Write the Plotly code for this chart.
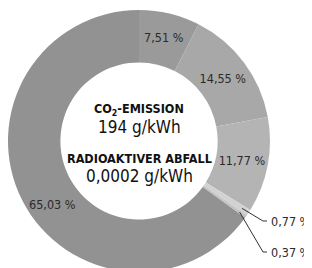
import math
import plotly.graph_objects as go

# Data
shares = [7.51, 14.55, 11.77, 0.77, 0.37, 65.03]
share_labels = ["7,51 %", "14,55 %", "11,77 %", "0,77 %", "0,37 %", "65,03 %"]
slice_colors = ["#9a9a9a", "#a8a8a8", "#b4b4b4", "#d2d2d2", "#c4c4c4", "#929292"]
center_lines = ["CO<sub>2</sub>-EMISSION", "194 g/kWh", "RADIOAKTIVER ABFALL", "0,0002 g/kWh"]

W, H = 312, 268
OFF = 8  # page body margin: screen = figure + OFF
FONT = "DejaVu Sans Condensed, Liberation Sans Narrow, sans-serif"
TXT = "#2a2a2a"


def px(sx):
    return (sx - OFF) / W


def py(sy):
    return 1 - (sy - OFF) / H


# pie geometry in screen pixels
scx, scy, SR = 139, 141, 131
fig = go.Figure(go.Pie(
    values=shares,
    text=[t if 5 < v < 50 else "" for v, t in zip(shares, share_labels)],
    texttemplate="%{text}",
    textposition="inside",
    insidetextorientation="horizontal",
    textfont=dict(family=FONT, size=12.5, color=TXT),
    marker=dict(colors=slice_colors, line=dict(width=0)),
    hole=0.6,
    sort=False,
    direction="clockwise",
    rotation=0,
    showlegend=False,
    domain=dict(x=[px(scx - SR), px(scx + SR)], y=[py(scy + SR), py(scy - SR)]),
    hoverinfo="none",
))

annotations = []
center_specs = [(center_lines[0], 109, 12.5, True), (center_lines[1], 127, 17, False),
                (center_lines[2], 158, 12.5, True), (center_lines[3], 176, 17, False)]
for txt, sy, sz, bold in center_specs:
    annotations.append(dict(
        x=px(scx), y=py(sy), xref="paper", yref="paper", showarrow=False,
        text=f"<b>{txt}</b>" if bold else txt,
        font=dict(family=FONT, size=sz, color="#111"),
        xanchor="center", yanchor="middle"))

annotations.append(dict(x=px(52), y=py(204), xref="paper", yref="paper", showarrow=False,
                        text=share_labels[5], font=dict(family=FONT, size=12.5, color=TXT),
                        xanchor="center", yanchor="middle"))

# leader lines for thin slices
total = sum(shares)
cum = 0
mids = []
for v in shares:
    mids.append((cum + v / 2) / total * 360)
    cum += v

shapes = []
leader = [(3, 221), (4, 252)]
for idx, ty in leader:
    a = math.radians(mids[idx])
    hx = scx + SR * 0.94 * math.sin(a)
    hy = scy - SR * 0.94 * math.cos(a)
    ex, endx = 263, 267
    path = f"M {px(hx)},{py(hy)} L {px(ex)},{py(ty)} L {px(endx)},{py(ty)}"
    shapes.append(dict(type="path", xref="paper", yref="paper", path=path,
                       line=dict(color="#333", width=1)))
    annotations.append(dict(x=px(269), y=py(ty), xref="paper", yref="paper", showarrow=False,
                            text=share_labels[idx], font=dict(family=FONT, size=12.5, color=TXT),
                            xanchor="left", yanchor="middle"))

fig.update_layout(
    width=W, height=H,
    margin=dict(l=0, r=0, t=0, b=0),
    paper_bgcolor="white", plot_bgcolor="white",
    annotations=annotations,
    shapes=shapes,
)
fig.write_html("out.html")
